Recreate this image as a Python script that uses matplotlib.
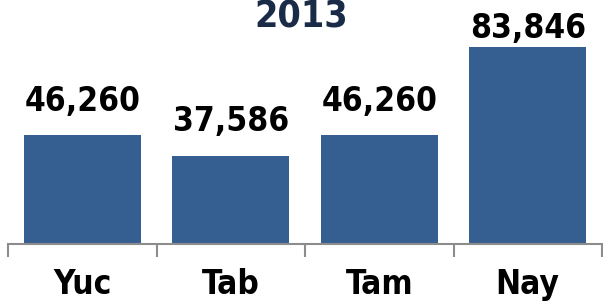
import matplotlib

matplotlib.use("Agg")
import matplotlib.pyplot as plt

# data
categories = ["Yuc", "Tab", "Tam", "Nay"]
values = [46260, 37586, 46260, 83846]
value_labels = ["46,260", "37,586", "46,260", "83,846"]
title = "2013"

font = dict(family="DejaVu Sans", fontstretch="condensed", fontweight="bold")

W, H = 603, 305
fig = plt.figure(figsize=(W / 100, H / 100), dpi=100)
ax = fig.add_axes([8 / W, (H - 244) / H, (602 - 8) / W, 244 / H])

x = range(len(categories))
ax.bar(x, values, width=0.79, color="#365F91", zorder=2)
ax.set_xlim(-0.5, len(categories) - 0.5)
ax.set_ylim(0, 104000)

# labels sit above the bar, but are kept inside the plot area (like Excel)
for xi, v, lab in zip(x, values, value_labels):
    ax.text(xi, min(v + 7500, 85000), lab, ha="center", va="bottom", fontsize=24,
            color="black", **font)

for side in ["top", "right", "left"]:
    ax.spines[side].set_visible(False)
ax.spines["bottom"].set_color("#8C8C8C")
ax.spines["bottom"].set_linewidth(1.5)
ax.set_yticks([])

# category boundary ticks
ax.set_xticks([i - 0.5 for i in range(len(categories) + 1)])
ax.set_xticklabels([])
ax.tick_params(axis="x", direction="out", length=9, width=1.5, color="#8C8C8C")
ax.set_xticks(list(x), minor=True)
ax.set_xticklabels(categories, minor=True, fontsize=24, **font)
ax.tick_params(axis="x", which="minor", length=0, pad=17)

fig.text(0.5, 1 + 1 / H, title, ha="center", va="top", fontsize=27,
         color="#1A2B47", **font)

fig.savefig("out.png", dpi=100)
